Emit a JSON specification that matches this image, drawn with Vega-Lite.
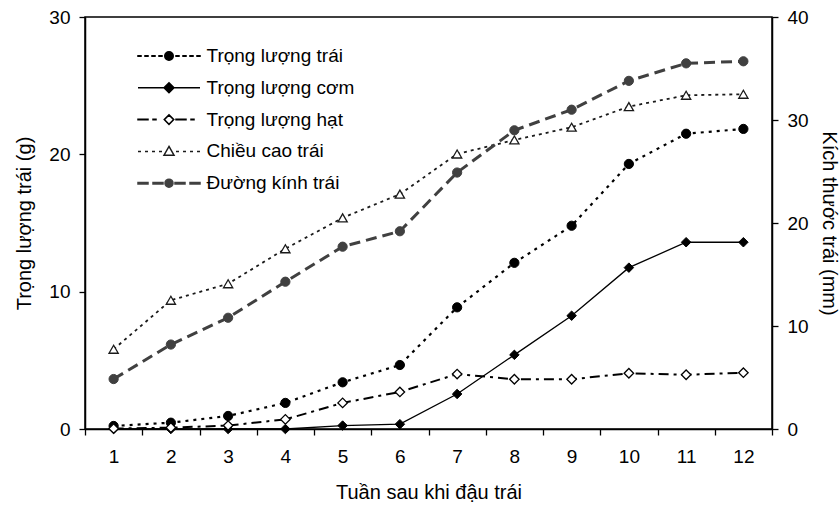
{
  "$schema": "https://vega.github.io/schema/vega-lite/v6.json",
  "width": 687,
  "height": 412,
  "autosize": {"type": "none"},
  "padding": {"left": 85, "top": 17, "right": 68, "bottom": 77},
  "background": "white",
  "config": {
    "font": "Liberation Sans",
    "view": {"stroke": "black", "strokeWidth": 1.5},
    "axis": {"domainColor": "black", "domainWidth": 1.5, "tickColor": "black", "tickWidth": 1.3, "tickSize": 6, "labelColor": "black", "titleColor": "black", "titleFontWeight": "normal", "labelFontSize": 19, "titleFontSize": 20, "grid": false, "labelFont": "Liberation Sans", "titleFont": "Liberation Sans"},
    "legend": {"labelFont": "Liberation Sans"}
  },
  "data": {"values": [
    {"week": 1, "series": "Trọng lượng trái", "value": 0.22},
    {"week": 2, "series": "Trọng lượng trái", "value": 0.46},
    {"week": 3, "series": "Trọng lượng trái", "value": 0.95},
    {"week": 4, "series": "Trọng lượng trái", "value": 1.9},
    {"week": 5, "series": "Trọng lượng trái", "value": 3.4},
    {"week": 6, "series": "Trọng lượng trái", "value": 4.66},
    {"week": 7, "series": "Trọng lượng trái", "value": 8.86},
    {"week": 8, "series": "Trọng lượng trái", "value": 12.1},
    {"week": 9, "series": "Trọng lượng trái", "value": 14.8},
    {"week": 10, "series": "Trọng lượng trái", "value": 19.3},
    {"week": 11, "series": "Trọng lượng trái", "value": 21.5},
    {"week": 12, "series": "Trọng lượng trái", "value": 21.85},
    {"week": 1, "series": "Trọng lượng cơm", "value": 0},
    {"week": 2, "series": "Trọng lượng cơm", "value": 0},
    {"week": 3, "series": "Trọng lượng cơm", "value": 0},
    {"week": 4, "series": "Trọng lượng cơm", "value": 0},
    {"week": 5, "series": "Trọng lượng cơm", "value": 0.25},
    {"week": 6, "series": "Trọng lượng cơm", "value": 0.35},
    {"week": 7, "series": "Trọng lượng cơm", "value": 2.55},
    {"week": 8, "series": "Trọng lượng cơm", "value": 5.4},
    {"week": 9, "series": "Trọng lượng cơm", "value": 8.25},
    {"week": 10, "series": "Trọng lượng cơm", "value": 11.75},
    {"week": 11, "series": "Trọng lượng cơm", "value": 13.6},
    {"week": 12, "series": "Trọng lượng cơm", "value": 13.6},
    {"week": 1, "series": "Trọng lượng hạt", "value": 0.03},
    {"week": 2, "series": "Trọng lượng hạt", "value": 0.1},
    {"week": 3, "series": "Trọng lượng hạt", "value": 0.25},
    {"week": 4, "series": "Trọng lượng hạt", "value": 0.7},
    {"week": 5, "series": "Trọng lượng hạt", "value": 1.9},
    {"week": 6, "series": "Trọng lượng hạt", "value": 2.7},
    {"week": 7, "series": "Trọng lượng hạt", "value": 4.0},
    {"week": 8, "series": "Trọng lượng hạt", "value": 3.62},
    {"week": 9, "series": "Trọng lượng hạt", "value": 3.62},
    {"week": 10, "series": "Trọng lượng hạt", "value": 4.06},
    {"week": 11, "series": "Trọng lượng hạt", "value": 3.95},
    {"week": 12, "series": "Trọng lượng hạt", "value": 4.1},
    {"week": 1, "series": "Chiều cao trái", "value": 7.74},
    {"week": 2, "series": "Chiều cao trái", "value": 12.5},
    {"week": 3, "series": "Chiều cao trái", "value": 14.1},
    {"week": 4, "series": "Chiều cao trái", "value": 17.5},
    {"week": 5, "series": "Chiều cao trái", "value": 20.5},
    {"week": 6, "series": "Chiều cao trái", "value": 22.8},
    {"week": 7, "series": "Chiều cao trái", "value": 26.7},
    {"week": 8, "series": "Chiều cao trái", "value": 28.06},
    {"week": 9, "series": "Chiều cao trái", "value": 29.3},
    {"week": 10, "series": "Chiều cao trái", "value": 31.3},
    {"week": 11, "series": "Chiều cao trái", "value": 32.4},
    {"week": 12, "series": "Chiều cao trái", "value": 32.5},
    {"week": 1, "series": "Đường kính trái", "value": 4.85},
    {"week": 2, "series": "Đường kính trái", "value": 8.2},
    {"week": 3, "series": "Đường kính trái", "value": 10.8},
    {"week": 4, "series": "Đường kính trái", "value": 14.3},
    {"week": 5, "series": "Đường kính trái", "value": 17.7},
    {"week": 6, "series": "Đường kính trái", "value": 19.2},
    {"week": 7, "series": "Đường kính trái", "value": 24.9},
    {"week": 8, "series": "Đường kính trái", "value": 29.0},
    {"week": 9, "series": "Đường kính trái", "value": 31.0},
    {"week": 10, "series": "Đường kính trái", "value": 33.8},
    {"week": 11, "series": "Đường kính trái", "value": 35.5},
    {"week": 12, "series": "Đường kính trái", "value": 35.7}
  ]},
  "encoding": {
    "x": {
      "field": "week", "type": "ordinal",
      "scale": {"type": "band", "paddingInner": 0, "paddingOuter": 0},
      "bandPosition": 0.5,
      "axis": {"title": "Tuần sau khi đậu trái", "labelAngle": 0, "tickBand": "extent", "labelPadding": 12, "titlePadding": 16}
    }
  },
  "layer": [
    {
      "encoding": {
        "y": {"field": "value", "type": "quantitative", "scale": {"domain": [0, 30], "nice": false},
          "axis": {"orient": "left", "values": [0, 10, 20, 30], "title": "Trọng lượng trái (g)", "labelPadding": 9, "titlePadding": 14}}
      },
      "layer": [
        {
          "transform": [{"filter": {"field": "series", "equal": "Trọng lượng trái"}}],
          "mark": {"type": "line", "strokeDash": [3, 5], "strokeWidth": 2.2},
          "encoding": {
            "color": {"field": "series", "type": "nominal",
              "scale": {"domain": ["Trọng lượng trái", "Trọng lượng cơm", "Trọng lượng hạt", "Chiều cao trái", "Đường kính trái"], "range": ["#000000", "#000000", "#000000", "#1a1a1a", "#404040"]},
              "legend": {
                "title": null, "orient": "none", "legendX": 74.5, "legendY": 29.5, "padding": 0,
                "labelFontSize": 19, "labelColor": "black", "labelOffset": 28, "rowPadding": 11.8, "symbolSize": 100,
                "encode": {"symbols": {"update": {
                  "shape": {"signal": "['M-6.2,-0.07H-5.6V0.07H-6.2ZM-4.8,-0.07H-4.2V0.07H-4.8ZM-3.4,-0.07H-2.8V0.07H-3.4ZM-2,-0.07H-1.4V0.07H-2ZM1.4,-0.07H2V0.07H1.4ZM2.8,-0.07H3.4V0.07H2.8ZM4.2,-0.07H4.8V0.07H4.2ZM5.6,-0.07H6.2V0.07H5.6ZM-0.85,0A0.85,0.85,0,1,0,0.85,0A0.85,0.85,0,1,0,-0.85,0Z', 'M-6.2,0L6.2,0M0,-1L1,0L0,1L-1,0Z', 'M-6.2,-0.05H-4.2V0.05H-6.2ZM-3.2,-0.05H-2.6V0.05H-3.2ZM1.4,-0.05H3.4V0.05H1.4ZM4.4,-0.05H5V0.05H4.4ZM0,-0.95L0.95,0L0,0.95L-0.95,0Z', 'M-6.2,0L-5.6,0M-4.8,0L-4.2,0M-3.4,0L-2.8,0M-2,0L-1.4,0M1.4,0L2,0M2.8,0L3.4,0M4.2,0L4.8,0M5.6,0L6.2,0M0,-1L1,0.75L-1,0.75Z', 'M-6.2,-0.15H-4.2V0.15H-6.2ZM-3.2,-0.15H-1.2V0.15H-3.2ZM1.2,-0.15H3.2V0.15H1.2ZM4.2,-0.15H6.2V0.15H4.2ZM-0.8,0A0.8,0.8,0,1,0,0.8,0A0.8,0.8,0,1,0,-0.8,0Z'][indexof(['Trọng lượng trái','Trọng lượng cơm','Trọng lượng hạt','Chiều cao trái','Đường kính trái'], datum.value)]"},
                  "size": {"value": 100},
                  "fill": {"signal": "['#000000','#000000','#ffffff','#ffffff','#404040'][indexof(['Trọng lượng trái','Trọng lượng cơm','Trọng lượng hạt','Chiều cao trái','Đường kính trái'], datum.value)]"},
                  "strokeWidth": {"value": 1.5},
                  "strokeDash": {"value": []},
                  "opacity": {"value": 1},
                  "fillOpacity": {"value": 1},
                  "strokeOpacity": {"value": 1}
                }}}
              }
            }
          }
        },
        {
          "transform": [{"filter": {"field": "series", "equal": "Trọng lượng cơm"}}],
          "mark": {"type": "line", "strokeWidth": 1.3},
          "encoding": {"color": {"field": "series", "type": "nominal"}}
        },
        {
          "transform": [{"filter": {"field": "series", "equal": "Trọng lượng hạt"}}],
          "mark": {"type": "line", "strokeDash": [10, 5, 3, 5], "strokeWidth": 2},
          "encoding": {"color": {"field": "series", "type": "nominal"}}
        },
        {
          "transform": [{"filter": {"field": "series", "equal": "Trọng lượng trái"}}],
          "mark": {"type": "point", "shape": "circle", "filled": true, "fill": "#000000", "stroke": "#000000", "strokeWidth": 1, "size": 85, "opacity": 1},
          "encoding": {}
        },
        {
          "transform": [{"filter": {"field": "series", "equal": "Trọng lượng cơm"}}],
          "mark": {"type": "point", "shape": "diamond", "filled": true, "fill": "#000000", "stroke": "#000000", "strokeWidth": 1, "size": 90, "opacity": 1},
          "encoding": {}
        },
        {
          "transform": [{"filter": {"field": "series", "equal": "Trọng lượng hạt"}}],
          "mark": {"type": "point", "shape": "diamond", "filled": true, "fill": "#ffffff", "stroke": "#000000", "strokeWidth": 1.3, "size": 90, "opacity": 1},
          "encoding": {}
        }
      ]
    },
    {
      "encoding": {
        "y": {"field": "value", "type": "quantitative", "scale": {"domain": [0, 40], "nice": false},
          "axis": {"orient": "right", "values": [0, 10, 20, 30, 40], "title": "Kích thước trái (mm)", "labelPadding": 9, "titlePadding": 10}}
      },
      "layer": [
        {
          "transform": [{"filter": {"field": "series", "equal": "Chiều cao trái"}}],
          "mark": {"type": "line", "strokeDash": [3, 4], "strokeWidth": 1.8},
          "encoding": {"color": {"field": "series", "type": "nominal"}}
        },
        {
          "transform": [{"filter": {"field": "series", "equal": "Đường kính trái"}}],
          "mark": {"type": "line", "strokeDash": [11, 6], "strokeWidth": 3},
          "encoding": {"color": {"field": "series", "type": "nominal"}}
        },
        {
          "transform": [{"filter": {"field": "series", "equal": "Chiều cao trái"}}],
          "mark": {"type": "point", "shape": "triangle-up", "filled": true, "fill": "#ffffff", "stroke": "#1a1a1a", "strokeWidth": 1.3, "size": 85, "opacity": 1},
          "encoding": {}
        },
        {
          "transform": [{"filter": {"field": "series", "equal": "Đường kính trái"}}],
          "mark": {"type": "point", "shape": "circle", "filled": true, "fill": "#404040", "stroke": "#404040", "strokeWidth": 1, "size": 85, "opacity": 1},
          "encoding": {}
        }
      ]
    }
  ],
  "resolve": {"scale": {"y": "independent"}}
}
